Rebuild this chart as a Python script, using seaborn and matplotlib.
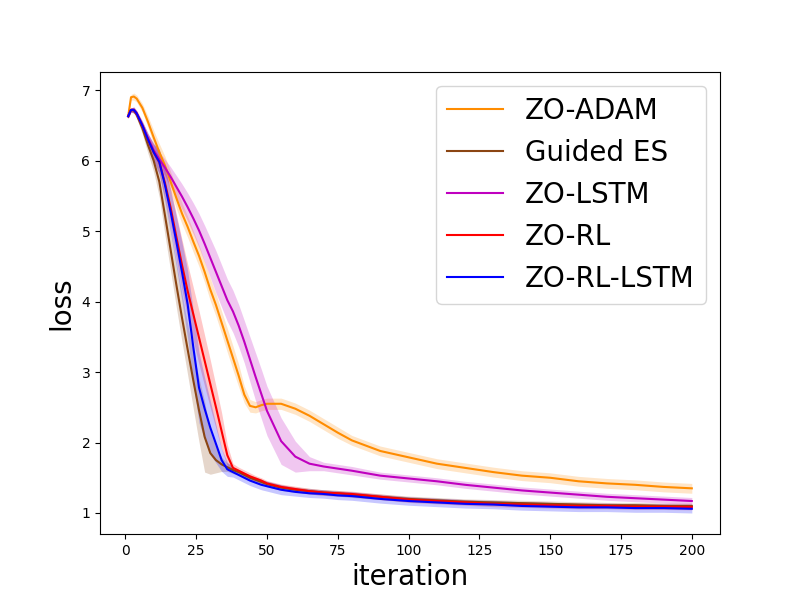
import numpy as np
import pandas as pd
import seaborn as sn
import matplotlib
matplotlib.use("Agg")
import matplotlib.pyplot as plt

iters = [1, 2, 3, 4, 6, 8, 10, 12, 14, 16, 18, 20, 22, 24, 26, 28, 30, 32, 34, 36,
         38, 40, 42, 44, 46, 48, 50, 55, 60, 65, 70, 75, 80, 90, 100, 110, 120, 130,
         140, 150, 160, 170, 180, 190, 200]

zo_adam = [6.63, 6.90, 6.91, 6.88, 6.75, 6.55, 6.33, 6.12, 5.93, 5.70, 5.47, 5.25, 5.06,
           4.85, 4.65, 4.42, 4.17, 3.95, 3.70, 3.45, 3.20, 2.95, 2.68, 2.52, 2.50, 2.53,
           2.55, 2.55, 2.48, 2.38, 2.26, 2.14, 2.03, 1.88, 1.79, 1.70, 1.64, 1.58, 1.53,
           1.50, 1.45, 1.42, 1.40, 1.37, 1.35]
zo_adam_sd = [0.03, 0.04, 0.05, 0.05, 0.06, 0.08, 0.10, 0.12, 0.13, 0.14, 0.15, 0.15, 0.15,
              0.15, 0.15, 0.15, 0.16, 0.16, 0.16, 0.17, 0.17, 0.16, 0.12, 0.09, 0.08, 0.08,
              0.08, 0.08, 0.08, 0.08, 0.08, 0.08, 0.07, 0.07, 0.07, 0.07, 0.07, 0.07, 0.07,
              0.07, 0.07, 0.07, 0.07, 0.07, 0.07]

guided_es = [6.63, 6.72, 6.71, 6.65, 6.46, 6.22, 6.00, 5.70, 5.22, 4.73, 4.24, 3.77, 3.32,
             2.88, 2.46, 2.08, 1.85, 1.75, 1.69, 1.65, 1.61, 1.58, 1.54, 1.50, 1.47, 1.44,
             1.41, 1.36, 1.33, 1.31, 1.29, 1.28, 1.26, 1.23, 1.20, 1.18, 1.16, 1.15, 1.14,
             1.13, 1.12, 1.11, 1.11, 1.10, 1.10]
guided_es_sd = [0.03, 0.03, 0.04, 0.05, 0.08, 0.12, 0.16, 0.22, 0.28, 0.30, 0.32, 0.34, 0.36,
                0.40, 0.45, 0.50, 0.30, 0.18, 0.10, 0.06, 0.05, 0.04, 0.04, 0.04, 0.04, 0.04,
                0.04, 0.04, 0.04, 0.04, 0.04, 0.04, 0.04, 0.04, 0.04, 0.04, 0.04, 0.04, 0.04,
                0.04, 0.04, 0.04, 0.04, 0.04, 0.04]

zo_lstm = [6.63, 6.72, 6.72, 6.67, 6.50, 6.32, 6.15, 6.02, 5.90, 5.77, 5.63, 5.49, 5.34,
           5.18, 5.01, 4.82, 4.62, 4.42, 4.22, 4.02, 3.86, 3.66, 3.43, 3.18, 2.93, 2.69,
           2.45, 2.02, 1.80, 1.70, 1.66, 1.63, 1.60, 1.53, 1.49, 1.45, 1.40, 1.36, 1.32,
           1.29, 1.26, 1.23, 1.21, 1.19, 1.17]
zo_lstm_sd = [0.03, 0.03, 0.04, 0.04, 0.05, 0.06, 0.08, 0.10, 0.12, 0.14, 0.16, 0.18, 0.20,
              0.22, 0.24, 0.26, 0.28, 0.30, 0.30, 0.30, 0.30, 0.30, 0.30, 0.32, 0.34, 0.35,
              0.35, 0.33, 0.22, 0.10, 0.06, 0.06, 0.06, 0.05, 0.05, 0.05, 0.05, 0.05, 0.05,
              0.05, 0.05, 0.05, 0.05, 0.05, 0.05]

zo_rl = [6.63, 6.72, 6.72, 6.67, 6.50, 6.30, 6.12, 5.98, 5.68, 5.33, 4.92, 4.52, 4.15,
         3.82, 3.49, 3.16, 2.83, 2.50, 2.16, 1.82, 1.64, 1.60, 1.56, 1.52, 1.49, 1.46,
         1.42, 1.37, 1.34, 1.31, 1.29, 1.28, 1.27, 1.23, 1.19, 1.17, 1.15, 1.13, 1.12,
         1.11, 1.10, 1.10, 1.09, 1.09, 1.085]
zo_rl_sd = [0.03, 0.03, 0.04, 0.04, 0.06, 0.08, 0.12, 0.17, 0.22, 0.27, 0.32, 0.36, 0.38,
            0.38, 0.38, 0.36, 0.34, 0.30, 0.26, 0.15, 0.06, 0.05, 0.05, 0.05, 0.04, 0.04,
            0.04, 0.04, 0.04, 0.04, 0.04, 0.04, 0.04, 0.04, 0.04, 0.04, 0.04, 0.04, 0.04,
            0.04, 0.04, 0.04, 0.04, 0.04, 0.04]

zo_rl_lstm = [6.63, 6.72, 6.72, 6.67, 6.50, 6.30, 6.12, 5.98, 5.65, 5.27, 4.85, 4.42, 3.96,
              3.35, 2.78, 2.48, 2.21, 1.98, 1.75, 1.62, 1.58, 1.54, 1.50, 1.46, 1.43, 1.40,
              1.38, 1.33, 1.30, 1.28, 1.27, 1.25, 1.24, 1.20, 1.17, 1.15, 1.13, 1.12, 1.10,
              1.09, 1.08, 1.08, 1.07, 1.07, 1.06]
zo_rl_lstm_sd = [0.03, 0.03, 0.04, 0.04, 0.06, 0.09, 0.12, 0.18, 0.24, 0.30, 0.36, 0.42, 0.48,
                 0.52, 0.50, 0.44, 0.38, 0.27, 0.16, 0.10, 0.07, 0.07, 0.07, 0.07, 0.07, 0.07,
                 0.07, 0.07, 0.06, 0.06, 0.06, 0.06, 0.06, 0.06, 0.06, 0.06, 0.06, 0.06, 0.06,
                 0.06, 0.06, 0.06, 0.06, 0.06, 0.06]

series = [
    ('ZO-ADAM', zo_adam, zo_adam_sd, 'darkorange'),
    ('Guided ES', guided_es, guided_es_sd, 'saddlebrown'),
    ('ZO-LSTM', zo_lstm, zo_lstm_sd, 'm'),
    ('ZO-RL', zo_rl, zo_rl_sd, 'r'),
    ('ZO-RL-LSTM', zo_rl_lstm, zo_rl_lstm_sd, 'b'),
]

fig, ax = plt.subplots(figsize=(8, 6), dpi=100)

for name, mean, sd, color in series:
    df = pd.DataFrame({'iteration': iters, 'loss': mean, 'sd': sd})
    sn.lineplot(data=df, x='iteration', y='loss', color=color, label=name, ax=ax, linewidth=1.5)
    ax.fill_between(df['iteration'], df['loss'] - df['sd'], df['loss'] + df['sd'],
                    color=color, alpha=0.22, linewidth=0)

ax.set_xlabel('iteration', fontsize=20)
ax.set_ylabel('loss', fontsize=20)
ax.legend(loc='upper right', fontsize=20)

plt.savefig('out.png')
